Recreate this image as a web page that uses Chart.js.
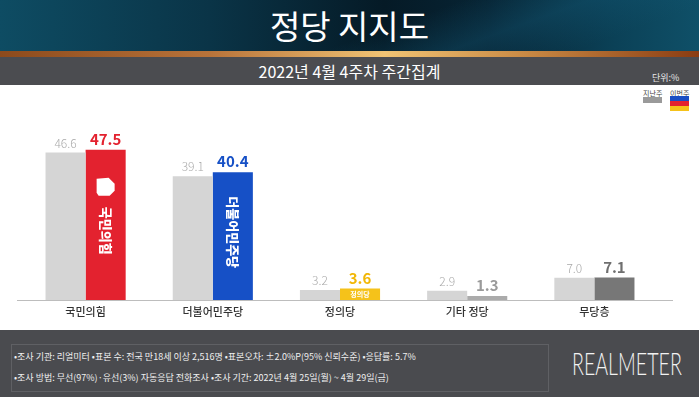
<!DOCTYPE html>
<html><head><meta charset="utf-8">
<script src="https://cdn.jsdelivr.net/npm/chart.js@4/dist/chart.umd.min.js"></script>
<style>
html,body{margin:0;padding:0;background:#fff;}
#wrap{position:relative;width:699px;height:397px;overflow:hidden;font-family:"Noto Sans CJK KR","Noto Sans",sans-serif;}
#banner{position:absolute;left:0;top:0;width:699px;height:52px;
background:linear-gradient(160deg,rgba(255,255,255,0) 55%,rgba(20,90,120,0.35) 70%,rgba(0,0,0,0) 85%),
linear-gradient(90deg,#0e4c63 0%,#0a3447 30%,#051a26 55%,#072434 70%,#0b4157 88%,#0f5068 100%);}
#title{position:absolute;left:0;top:0;width:699px;height:52px;line-height:50px;text-align:center;color:#fff;font-size:33px;font-weight:400;}
#gold{position:absolute;left:0;top:51px;width:699px;height:6px;background:linear-gradient(90deg,#8c4a1c 0%,#b8733a 30%,#f0c374 55%,#c98a45 75%,#8a3c12 100%);}
#band{position:absolute;left:0;top:57px;width:699px;height:28px;background:#4b4c50;}
#subtitle{position:absolute;left:0;top:57px;width:699px;height:28px;line-height:28px;text-align:center;color:#fff;font-size:16px;font-weight:400;}
#unit{position:absolute;left:652px;top:71px;color:#e6e6e6;font-size:9px;}
.lg{position:absolute;font-size:7px;color:#444;}
#chartbox{position:absolute;left:0;top:85px;width:699px;height:245px;}
#footer{position:absolute;left:0;top:330px;width:699px;height:67px;background:#4a4b4f;}
#fbox{position:absolute;left:11px;top:14px;width:536px;height:46px;border:1px solid #5f6064;}
.fl{position:absolute;left:14px;color:#f0f0f0;font-size:9px;white-space:nowrap;}
#rm{position:absolute;left:572px;top:16px;color:#f2f2f2;font-family:Lato,"Open Sans",sans-serif;font-size:31px;line-height:34px;font-weight:300;white-space:nowrap;transform-origin:left top;}
</style></head>
<body><div id="wrap">
<div id="banner"></div><div id="title">정당 지지도</div>
<div id="gold"></div>
<div id="band"></div><div id="subtitle">2022년 4월 4주차 주간집계</div>
<div id="unit">단위:%</div>
<div class="lg" style="left:643px;top:88px;">지난주</div>
<div style="position:absolute;left:643px;top:97px;width:19px;height:6px;background:#9a9a9a;"></div>
<div class="lg" style="left:670px;top:88px;">이번주</div>
<div style="position:absolute;left:670px;top:96px;width:19px;height:5px;background:#1a4fc4;"></div>
<div style="position:absolute;left:670px;top:101px;width:19px;height:5px;background:#e3222f;"></div>
<div style="position:absolute;left:670px;top:106px;width:19px;height:5px;background:#f5c21a;"></div>
<div id="chartbox"><canvas id="c" width="699" height="245"></canvas></div>
<div id="footer"><div id="fbox"></div>
<div class="fl" style="top:20px;">•조사 기관: 리얼미터 •표본 수: 전국 만18세 이상 2,516명 •표본오차: ±2.0%P(95% 신뢰수준) •응답률: 5.7%</div>
<div class="fl" style="top:41px;">•조사 방법: 무선(97%)·유선(3%) 자동응답 전화조사 •조사 기간: 2022년 4월 25일(월) ~ 4월 29일(금)</div>
<div id="rm">REALMETER</div>
</div>
</div>
<script>
const categories = ['국민의힘', '더불어민주당', '정의당', '기타 정당', '무당층'];
const lastWeek = [46.6, 39.1, 3.2, 2.9, 7.0];
const thisWeek = [47.5, 40.4, 3.6, 1.3, 7.1];
const lastWeekColor = '#d5d5d5';
const thisWeekColors = ['#e3222f', '#1650c6', '#f5c21a', '#ababab', '#777777'];
const thisWeekLabelColors = ['#e3222f', '#1650c6', '#f2b705', '#9a9a9a', '#6f6f6f'];
const barInnerText = ['국민의힘', '더불어민주당', '정의당', '', ''];

const KFONT = '"Noto Sans CJK KR","Noto Sans",sans-serif';

// fit logo word to its width
(function(){ const el = document.getElementById('rm'); const w = el.offsetWidth; el.style.transform = 'scaleX(' + (110 / w) + ')'; })();

const labelPlugin = {
  id: 'labels',
  afterDatasetsDraw(chart) {
    const ctx = chart.ctx;
    const m0 = chart.getDatasetMeta(0), m1 = chart.getDatasetMeta(1);
    ctx.save();
    const by = chart.scales.y.getPixelForValue(0);
    ctx.strokeStyle = '#bdbdbd'; ctx.lineWidth = 1;
    ctx.beginPath(); ctx.moveTo(chart.chartArea.left - 5, by + 0.5); ctx.lineTo(chart.chartArea.right + 15, by + 0.5); ctx.stroke();
    ctx.textAlign = 'center'; ctx.textBaseline = 'alphabetic';
    m0.data.forEach((bar, i) => {
      ctx.fillStyle = '#a9a9a9';
      ctx.font = '300 12px ' + KFONT;
      ctx.fillText(lastWeek[i].toFixed(1), bar.x, bar.y - 5);
    });
    m1.data.forEach((bar, i) => {
      ctx.fillStyle = thisWeekLabelColors[i];
      ctx.font = '700 15px ' + KFONT;
      ctx.fillText(thisWeek[i].toFixed(1), bar.x, bar.y - 5);
    });
    const b0 = m1.data[0];
    ctx.fillStyle = '#fff';
    const lx = b0.x, ly = b0.y + 37;
    ctx.beginPath();
    ctx.moveTo(lx - 9, ly - 8); ctx.lineTo(lx + 3, ly - 9); ctx.lineTo(lx + 9, ly - 3);
    ctx.lineTo(lx + 9, ly + 4); ctx.lineTo(lx + 4, ly + 9); ctx.lineTo(lx - 7, ly + 9);
    ctx.lineTo(lx - 9, ly + 6); ctx.closePath(); ctx.fill();
    ctx.save();
    ctx.translate(b0.x, b0.y + 81);
    ctx.rotate(Math.PI / 2);
    ctx.font = '900 13px ' + KFONT;
    ctx.textBaseline = 'middle';
    ctx.fillText(barInnerText[0], 0, 0);
    ctx.restore();
    const b1 = m1.data[1];
    ctx.save();
    ctx.translate(b1.x, b1.y + 60);
    ctx.rotate(Math.PI / 2);
    ctx.font = '900 13px ' + KFONT;
    ctx.textBaseline = 'middle';
    ctx.fillText(barInnerText[1], 0, 0);
    ctx.restore();
    const b2 = m1.data[2];
    ctx.font = '700 7px ' + KFONT;
    ctx.textBaseline = 'middle';
    ctx.fillText(barInnerText[2], b2.x, (b2.y + by) / 2);
    ctx.restore();
  }
};

new Chart(document.getElementById('c'), {
  type: 'bar',
  data: {
    labels: categories,
    datasets: [
      { label: '지난주', data: lastWeek, backgroundColor: lastWeekColor },
      { label: '이번주', data: thisWeek, backgroundColor: thisWeekColors }
    ]
  },
  options: {
    responsive: false,
    animation: false,
    events: [],
    layout: { padding: { top: 41, left: 22, right: 41, bottom: 0 } },
    datasets: { bar: { categoryPercentage: 0.63, barPercentage: 1.0 } },
    plugins: { legend: { display: false }, tooltip: { enabled: false } },
    scales: {
      x: {
        grid: { display: false, drawTicks: false },
        border: { display: false },
        ticks: { color: '#333', font: { family: KFONT, size: 11, weight: '500' }, padding: 5 },
        afterFit: (s) => { s.height = 30; }
      },
      y: { display: false, min: 0, max: 55 }
    }
  },
  plugins: [labelPlugin]
});
</script>
</body></html>
